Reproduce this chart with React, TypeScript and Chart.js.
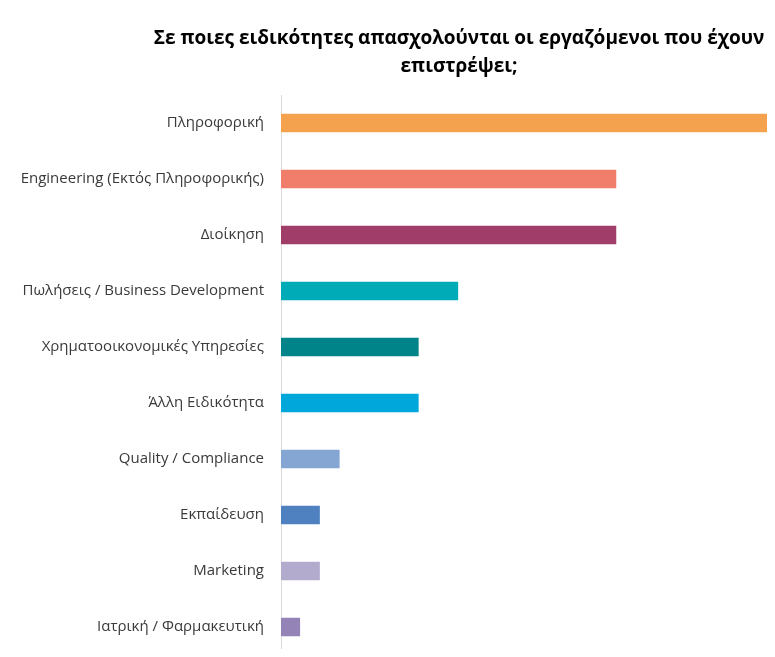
import React, { useEffect, useRef } from "react";
import { Chart, registerables } from "chart.js";

Chart.register(...registerables);

const categories = [
  "Πληροφορική",
  "Engineering (Εκτός Πληροφορικής)",
  "Διοίκηση",
  "Πωλήσεις / Business Development",
  "Χρηματοοικονομικές Υπηρεσίες",
  "Άλλη Ειδικότητα",
  "Quality / Compliance",
  "Εκπαίδευση",
  "Marketing",
  "Ιατρική / Φαρμακευτική",
];
const values = [25, 17, 17, 9, 7, 7, 3, 2, 2, 1];
const colors = [
  "#F5A24E",
  "#F07E6B",
  "#A03D69",
  "#00ABB8",
  "#00848A",
  "#00A7DB",
  "#85A5D3",
  "#4F81C0",
  "#B3ABCE",
  "#9383B6",
];
const titleLines = [
  "Σε ποιες ειδικότητες απασχολούνται οι εργαζόμενοι που έχουν",
  "επιστρέψει;",
];

const FONT = "'Open Sans', 'Noto Sans', sans-serif";

export default function App() {
  const ref = useRef<HTMLCanvasElement | null>(null);

  useEffect(() => {
    if (!ref.current) return;
    const titlePlugin = {
      id: "customTitle",
      afterDraw(chart: any) {
        const ctx = chart.ctx;
        ctx.save();
        ctx.font = `bold 19px ${FONT}`;
        ctx.fillStyle = "#000";
        ctx.textAlign = "center";
        ctx.textBaseline = "middle";
        titleLines.forEach((t, i) => {
          ctx.fillText(t, 459, 39 + i * 28);
        });
        ctx.restore();
      },
    };
    const chart = new Chart(ref.current, {
      type: "bar",
      data: {
        labels: categories,
        datasets: [
          {
            data: values,
            backgroundColor: colors,
            borderColor: "rgba(255,255,255,0.5)",
            borderWidth: 1,
            barThickness: 20,
          },
        ],
      },
      options: {
        indexAxis: "y",
        animation: false,
        responsive: false,
        maintainAspectRatio: false,
        layout: { autoPadding: false, padding: { top: 95, bottom: 2, left: 0, right: 0 } },
        plugins: {
          legend: { display: false },
          title: { display: false },
          tooltip: { enabled: false },
        },
        scales: {
          x: {
            display: false,
            min: 0,
            max: 25,
          },
          y: {
            afterFit(scale: any) {
              scale.width = 281;
              scale.paddingTop = 0;
              scale.paddingBottom = 0;
            },
            grid: { display: false, drawTicks: false },
            border: { display: true, color: "#d9d9d9", width: 1 },
            ticks: {
              color: "#3a3a3a",
              padding: 17,
              font: { family: FONT, size: 15 },
            },
          },
        },
      },
      plugins: [titlePlugin],
    });
    return () => chart.destroy();
  }, []);

  return (
    <div style={{ position: "relative", width: 775, height: 657, margin: -8 }}>
      <canvas
        ref={ref}
        width={775}
        height={657}
        style={{ display: "block", position: "absolute", left: 0, top: 0 }}
      />
      <div
        style={{
          position: "absolute",
          left: 5,
          top: 12,
          width: 1,
          height: 645,
          background: "#d0d0d0",
        }}
      />
    </div>
  );
}
